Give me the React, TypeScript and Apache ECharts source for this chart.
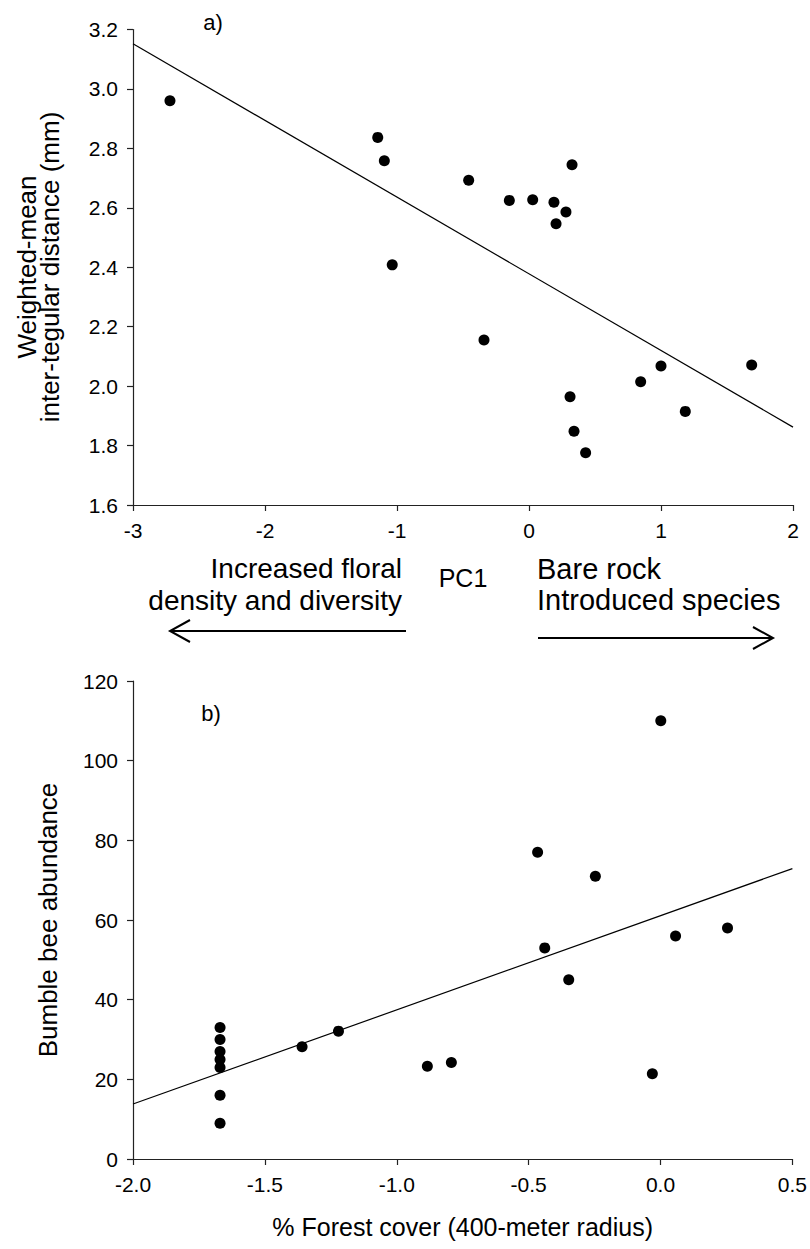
import React, { useEffect, useRef } from "react";
import * as echarts from "echarts";

// Panel a) PC1 vs weighted-mean inter-tegular distance
const pcX = [-2.72, -1.146, -1.096, -1.036, -0.457, -0.149, 0.028, 0.189, 0.28, 0.205, 0.326, -0.341, 0.311, 0.341, 0.429, 0.846, 1.0, 1.184, 1.687];
const itdY = [2.96, 2.837, 2.758, 2.408, 2.693, 2.625, 2.627, 2.619, 2.586, 2.546, 2.745, 2.155, 1.964, 1.848, 1.776, 2.015, 2.068, 1.915, 2.071];
const fitA = [[-3, 3.152], [2, 1.862]];

// Panel b) forest cover vs bumble bee abundance
const forestX = [-1.67, -1.67, -1.67, -1.67, -1.67, -1.67, -1.67, -1.359, -1.221, -0.884, -0.793, -0.466, -0.439, -0.348, -0.247, -0.031, 0.001, 0.057, 0.254];
const beeY = [33, 30, 27, 25, 23, 16, 9, 28.2, 32.1, 23.3, 24.2, 77, 53, 45, 71, 21.4, 110, 56, 58];
const fitB = [[-2, 13.8], [0.5, 72.9]];

const FONT = "Liberation Sans, Arial, sans-serif";

export default function App() {
  const ref = useRef<HTMLDivElement>(null);
  useEffect(() => {
    if (!ref.current) return;
    const chart = echarts.init(ref.current, undefined, { renderer: "svg" });
    const axisLine = { show: true, onZero: false, lineStyle: { color: "#222", width: 1.2 } };
    const axisTick = { show: true, inside: false, length: 6, lineStyle: { color: "#222", width: 1.2 } };
    const label = (fmt?: (v: number) => string) => ({
      color: "#000",
      fontSize: 21,
      fontFamily: FONT,
      margin: 15,
      formatter: fmt,
    });
    const ptsA = pcX.map((x, i) => [x, itdY[i]]);
    const ptsB = forestX.map((x, i) => [x, beeY[i]]);
    chart.setOption({
      animation: false,
      backgroundColor: "#fff",
      grid: [
        { left: 133, width: 660, top: 29.5, height: 475.5 },
        { left: 133, width: 660, top: 681, height: 478 },
      ],
      xAxis: [
        {
          gridIndex: 0, type: "value", min: -3, max: 2, interval: 1,
          axisLine, axisTick, splitLine: { show: false },
          axisLabel: label(),
          name: "PC1", nameLocation: "middle", nameGap: 60,
          nameTextStyle: { fontSize: 25, fontFamily: FONT, color: "#000" },
        },
        {
          gridIndex: 1, type: "value", min: -2, max: 0.5, interval: 0.5,
          axisLine, axisTick, splitLine: { show: false },
          axisLabel: label((v) => v.toFixed(1)),
          name: "% Forest cover (400-meter radius)", nameLocation: "middle", nameGap: 55,
          nameTextStyle: { fontSize: 25, fontFamily: FONT, color: "#000" },
        },
      ],
      yAxis: [
        {
          gridIndex: 0, type: "value", min: 1.6, max: 3.2, interval: 0.2,
          axisLine, axisTick, splitLine: { show: false },
          axisLabel: label((v) => v.toFixed(1)),
        },
        {
          gridIndex: 1, type: "value", min: 0, max: 120, interval: 20,
          axisLine, axisTick, splitLine: { show: false },
          axisLabel: label(),
          name: "Bumble bee abundance", nameLocation: "middle", nameGap: 72, nameRotate: 90,
          nameTextStyle: { fontSize: 26, fontFamily: FONT, color: "#000" },
        },
      ],
      series: [
        { type: "scatter", xAxisIndex: 0, yAxisIndex: 0, data: ptsA, symbolSize: 11, itemStyle: { color: "#000", opacity: 1 } },
        { type: "line", xAxisIndex: 0, yAxisIndex: 0, data: fitA, symbol: "none", lineStyle: { color: "#000", width: 1.2 } },
        { type: "scatter", xAxisIndex: 1, yAxisIndex: 1, data: ptsB, symbolSize: 11, itemStyle: { color: "#000", opacity: 1 } },
        { type: "line", xAxisIndex: 1, yAxisIndex: 1, data: fitB, symbol: "none", lineStyle: { color: "#000", width: 1.2 } },
      ],
      graphic: [
        {
          type: "text", x: 38.5, y: 267, rotation: Math.PI / 2,
          style: { text: "Weighted-mean\ninter-tegular distance (mm)", fontSize: 26, lineHeight: 23, fontFamily: FONT, fill: "#000", align: "center", verticalAlign: "middle" },
        },
        { type: "text", x: 213, y: 22, style: { text: "a)", fontSize: 22, fontFamily: FONT, fill: "#000", align: "center", verticalAlign: "middle" } },
        { type: "text", x: 211, y: 713, style: { text: "b)", fontSize: 22, fontFamily: FONT, fill: "#000", align: "center", verticalAlign: "middle" } },
        { type: "text", x: 402, y: 568, style: { text: "Increased floral", fontSize: 28, fontFamily: FONT, fill: "#000", align: "right", verticalAlign: "middle" } },
        { type: "text", x: 402, y: 600, style: { text: "density and diversity", fontSize: 28, fontFamily: FONT, fill: "#000", align: "right", verticalAlign: "middle" } },
        { type: "text", x: 537, y: 569, style: { text: "Bare rock", fontSize: 29, fontFamily: FONT, fill: "#000", align: "left", verticalAlign: "middle" } },
        { type: "text", x: 537, y: 600, style: { text: "Introduced species", fontSize: 29, fontFamily: FONT, fill: "#000", align: "left", verticalAlign: "middle" } },
        { type: "line", shape: { x1: 170, y1: 631, x2: 406, y2: 631 }, style: { stroke: "#000", lineWidth: 2 } },
        { type: "polyline", shape: { points: [[190, 620], [170, 631], [190, 642]] }, style: { stroke: "#000", lineWidth: 2, fill: null } },
        { type: "line", shape: { x1: 538, y1: 638, x2: 773, y2: 638 }, style: { stroke: "#000", lineWidth: 2 } },
        { type: "polyline", shape: { points: [[753, 627], [773, 638], [753, 649]] }, style: { stroke: "#000", lineWidth: 2, fill: null } },
      ],
    });
    return () => chart.dispose();
  }, []);
  return <div ref={ref} style={{ position: "absolute", left: 0, top: 0, width: 810, height: 1249 }} />;
}
